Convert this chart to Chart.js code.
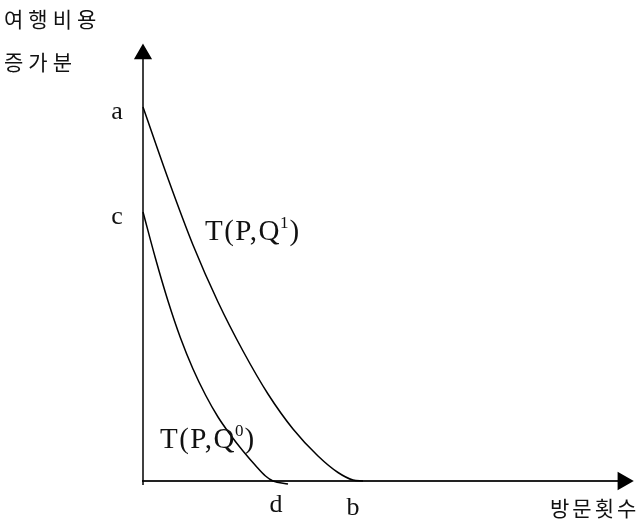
<!DOCTYPE html>
<html>
<head>
<meta charset="utf-8">
<script src="https://cdn.jsdelivr.net/npm/chart.js@4.4.1/dist/chart.umd.min.js"></script>
<style>
  html, body { margin: 0; padding: 0; background: #fff; }
  #wrap { width: 641px; height: 523px; }
</style>
</head>
<body>
<div id="wrap"><canvas id="tcChart" width="641" height="523"></canvas></div>
<script>
// upper curve T(P,Q1): from a on the price axis down to b
let upperX = [0, 0.5, 1.0, 1.5, 2.0, 2.5, 3.0, 3.5, 3.9, 4.2, 4.4];
let upperY = [7.48, 6.05, 4.72, 3.58, 2.60, 1.74, 1.04, 0.50, 0.17, 0.02, 0.0];

// lower curve T(P,Q0): from c down to d
let lowerX = [0, 0.25, 0.5, 0.75, 1.0, 1.25, 1.5, 1.75, 2.0, 2.25, 2.45, 2.6, 2.9];
let lowerY = [5.38, 4.45, 3.6, 2.86, 2.24, 1.72, 1.28, 0.92, 0.6, 0.31, 0.1, 0.0, -0.06];

// axis ends (line start, arrow head)
let yAxisLine = [-0.08, 8.54];
let xAxisLine = [-0.02, 9.6];

let yTitle = ["여행비용", "증가분"];
let xTitle = "방문횟수";

function toPoints(xs, ys) {
    return xs.map((v, i) => ({ x: v, y: ys[i] }));
}

const serif = "'Liberation Serif', 'DejaVu Serif', serif";
const korean = "'Noto Sans CJK KR', 'Noto Sans', sans-serif";

function drawQ(ctx, x, y, sup) {
    ctx.font = "29px " + serif;
    ctx.letterSpacing = "1.5px";
    ctx.textAlign = "left";
    ctx.textBaseline = "middle";
    let s1 = "T(P,Q";
    ctx.fillText(s1, x, y);
    let w = ctx.measureText(s1).width - 1.5;
    ctx.letterSpacing = "0px";
    ctx.font = "17px " + serif;
    ctx.fillText(sup, x + w + 0.5, y - 8);
    let w2 = ctx.measureText(sup).width;
    ctx.font = "29px " + serif;
    ctx.fillText(")", x + w + w2 + 1.5, y);
}

const notes = {
    id: "notes",
    afterDatasetsDraw(chart) {
        const ctx = chart.ctx;
        const xs = chart.scales.x;
        const ys = chart.scales.y;
        ctx.save();
        ctx.fillStyle = "#111";

        // point letters
        ctx.font = "26px " + serif;
        ctx.textAlign = "center";
        ctx.textBaseline = "middle";
        ctx.fillText("a", xs.getPixelForValue(0) - 26, ys.getPixelForValue(upperY[0]) + 5);
        ctx.fillText("c", xs.getPixelForValue(0) - 26, ys.getPixelForValue(lowerY[0]) + 5);
        ctx.fillText("d", xs.getPixelForValue(lowerX[11]) + 3, ys.getPixelForValue(0) + 24);
        ctx.fillText("b", xs.getPixelForValue(upperX[9]) + 0, ys.getPixelForValue(0) + 27);

        // curve labels
        drawQ(ctx, xs.getPixelForValue(1.24), ys.getPixelForValue(4.98), "1");
        drawQ(ctx, xs.getPixelForValue(0.34), ys.getPixelForValue(0.82), "0");

        // axis titles
        ctx.font = "21px " + korean;
        ctx.letterSpacing = "5px";
        ctx.textAlign = "left";
        ctx.fillText(yTitle[0], 4, 19);
        ctx.fillText(yTitle[1], 4, 62);
        ctx.letterSpacing = "3px";
        ctx.fillText(xTitle, 550, 508);
        ctx.restore();
    }
};

const lineStyle = {
    borderColor: "#000",
    borderWidth: 1.5,
    pointRadius: 0,
    fill: false,
    cubicInterpolationMode: "monotone",
    clip: false
};

new Chart(document.getElementById("tcChart"), {
    type: "scatter",
    data: {
        datasets: [
            Object.assign({ data: toPoints(upperX, upperY), showLine: true }, lineStyle),
            Object.assign({ data: toPoints(lowerX, lowerY), showLine: true }, lineStyle),
            {
                data: toPoints([0, 0], yAxisLine),
                showLine: true,
                borderColor: "#000",
                borderWidth: 1.5,
                pointStyle: "triangle",
                pointRadius: [0, 9],
                pointRotation: 0,
                pointBackgroundColor: "#000",
                pointBorderColor: "#000",
                clip: false
            },
            {
                data: toPoints(xAxisLine, [0, 0]),
                showLine: true,
                borderColor: "#222",
                borderWidth: 1.8,
                pointStyle: "triangle",
                pointRadius: [0, 9],
                pointRotation: 90,
                pointBackgroundColor: "#000",
                pointBorderColor: "#000",
                clip: false
            }
        ]
    },
    options: {
        responsive: false,
        animation: false,
        layout: { padding: 0, autoPadding: false },
        plugins: {
            legend: { display: false },
            tooltip: { enabled: false }
        },
        scales: {
            x: { type: "linear", display: false, min: -2.86, max: 9.96 },
            y: { type: "linear", display: false, min: -0.84, max: 9.62 }
        }
    },
    plugins: [notes]
});
</script>
</body>
</html>
